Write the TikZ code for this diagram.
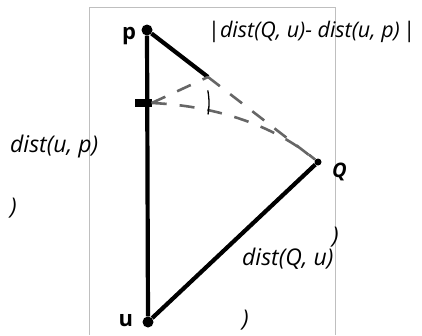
\documentclass[tikz,border=0pt]{standalone}
\usepackage{fontspec}
\setmainfont{Open Sans}
\usetikzlibrary{positioning}

\begin{document}
\begin{tikzpicture}[x=1pt, y=-1pt,
        edge/.style={line width=4.2pt},
        guess/.style={draw=black!60, line width=2.6pt, dash pattern=on 15pt off 13pt},
        frame/.style={draw=black!25, line width=0.6pt},
        ptdot/.style={circle, fill=black, inner sep=0pt, minimum size=11pt},
        ptname/.style={font=\bfseries\fontsize{22}{26}\selectfont, inner sep=0pt},
        lbl/.style={font=\itshape\fontsize{23}{27}\selectfont, inner sep=0pt, anchor=base west}]
        \useasboundingbox (0,0) rectangle (422,335);
        \draw[frame] (89,335) -- (89,7) -- (335,7) -- (335,335);
        % points of the triangle
        \node[ptdot] (p) at (147,30) {};
        \node[ptdot] (u) at (148,322) {};
        \node[ptdot, minimum size=7pt] (Q) at (318,162) {};
        \coordinate (m) at (208,77);
        \node[fill=black, inner sep=0pt, minimum width=17pt, minimum height=8pt] (pp) at (143,103) {};
        \node[ptname, left=5pt of p, yshift=-6pt] (plbl) {p};
        \node[ptname, left=9pt of u, yshift=1pt] (ulbl) {u};
        \node[ptname, font=\bfseries\itshape\fontsize{20}{24}\selectfont, anchor=west] (Qlbl) at (332,172) {Q};
        % sides
        \draw[edge] (p) -- (u);
        \draw[edge] (u) -- (Q);
        \draw[edge] (p) -- (m);
        \draw[guess] (m) -- (Q);
        \draw[guess] (pp.east) -- (m);
        \draw[guess] (pp.east) .. controls (200,105) and (265,118) .. (Q);
        \draw[line width=1.3pt] (pp) ++(-11:66) arc (-11:10:66);
        % texts
        \node[lbl, font=\itshape\fontsize{21.5}{26}\selectfont] (diff) at (208,37) {{\upshape|}dist(Q, u)- dist(u, p)\,{\upshape|}};
        \node[lbl] (up) at (10,152) {dist(u, p)};
        \node[lbl] (par1) at (10,214) {)};
        \node[lbl] (Qu) at (242,265) {dist(Q, u)};
        \node[lbl] (par2) at (332,243) {)};
        \node[lbl] (par3) at (242,326) {)};
\end{tikzpicture}
\end{document}
